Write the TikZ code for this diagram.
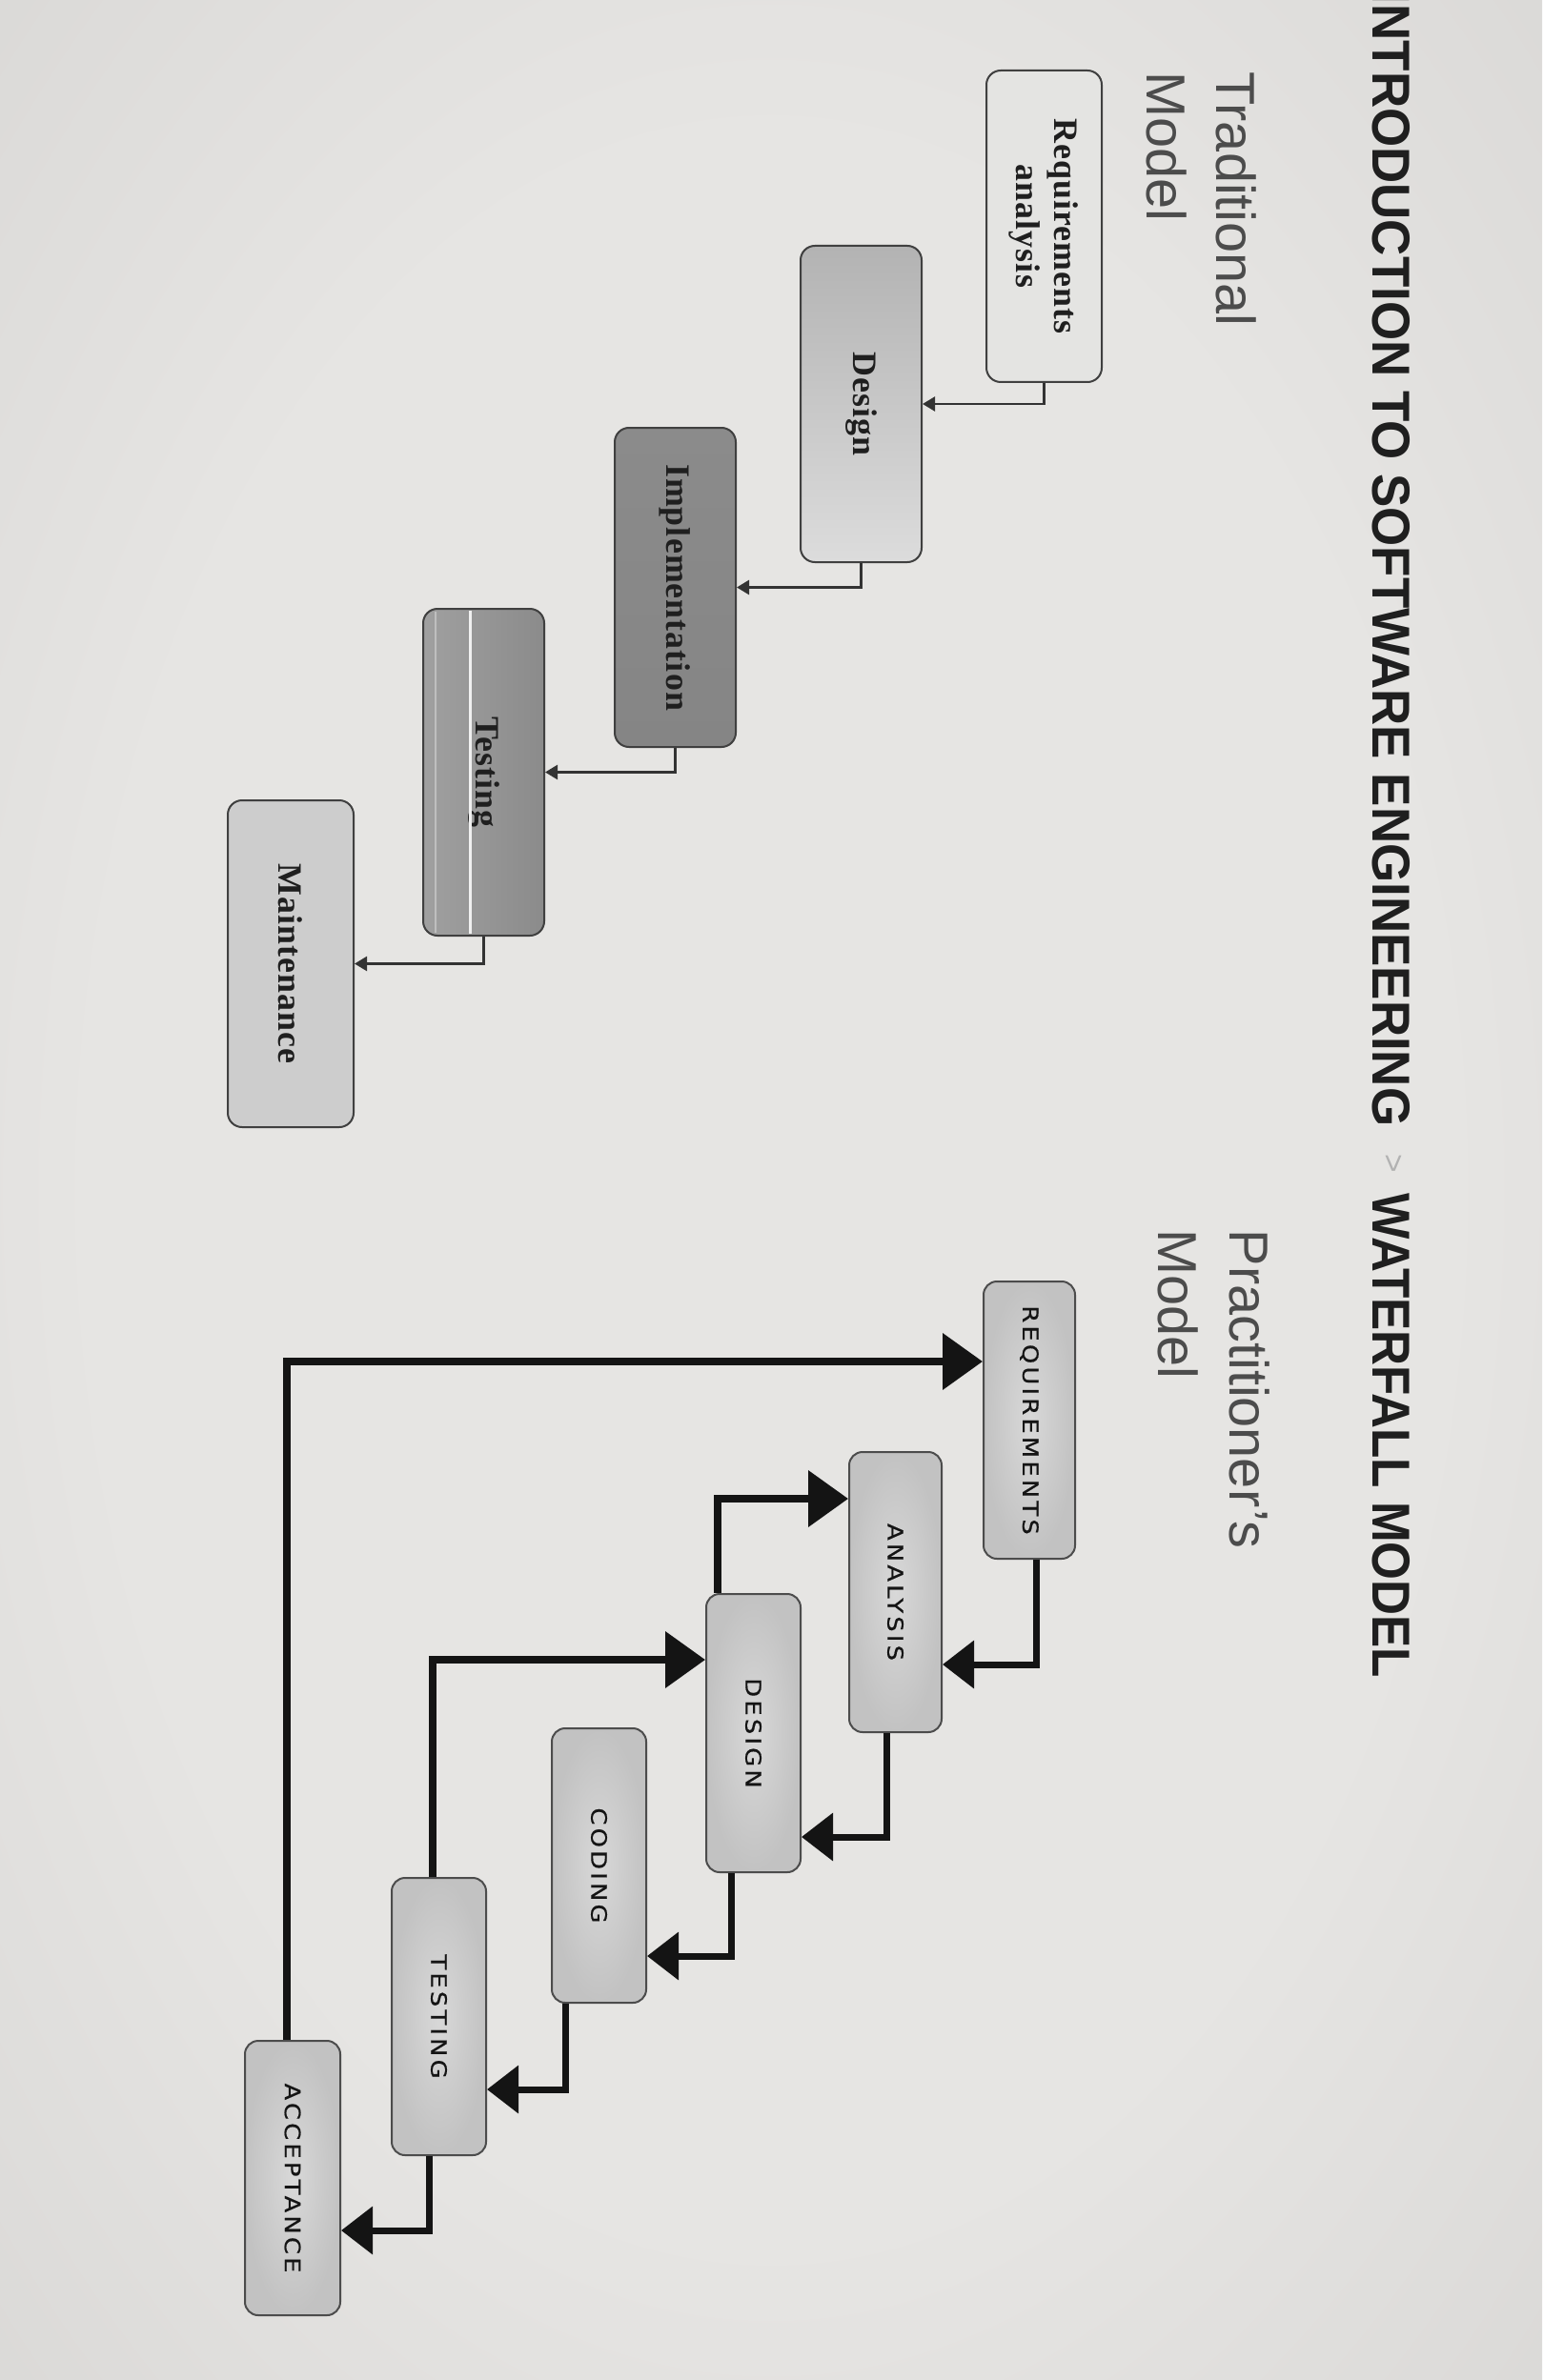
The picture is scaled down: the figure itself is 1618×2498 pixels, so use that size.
\documentclass[tikz,border=0pt]{standalone}
\usepackage{fontspec}
\setmainfont{Liberation Sans}
\newfontfamily\tradfont[LetterSpace=3]{Liberation Serif}
\newfontfamily\pracfont[FakeStretch=1.15, LetterSpace=14, FakeBold=0.6]{DejaVu Sans}
\usetikzlibrary{arrows.meta,calc}
\definecolor{bgin}{HTML}{E6E5E3}
\definecolor{bgout}{HTML}{BDBBB9}
\definecolor{tA}{HTML}{E4E4E2}
\definecolor{tBl}{HTML}{B3B3B3}
\definecolor{tBr}{HTML}{DCDCDC}
\definecolor{tCl}{HTML}{8B8B8B}
\definecolor{tCm}{HTML}{AEAEAE}
\definecolor{tCr}{HTML}{858585}
\definecolor{tDt}{HTML}{8B8B8B}
\definecolor{tDb}{HTML}{A0A0A0}
\definecolor{tE}{HTML}{CDCDCD}
\definecolor{pIn}{HTML}{D8D8D8}
\definecolor{pOut}{HTML}{C2C2C2}
\pgfdeclareradialshading{vign}{\pgfpoint{0bp}{0bp}}{color(0bp)=(bgin); color(22bp)=(bgin); color(71bp)=(bgout)}
\begin{document}
\begin{tikzpicture}[x=0.1mm,y=0.1mm,
  lbl/.style={rotate=-90, anchor=base west, inner sep=0pt},
  subttl/.style={lbl, font=\fontsize{16.4pt}{19pt}\selectfont, text=black!70},
  tbox/.style={rotate=-90, draw=black!75, line width=0.2mm, rounded corners=1.5mm,
    inner sep=0pt, align=center, text=black!88,
    font=\tradfont\bfseries\fontsize{10.2pt}{11.4pt}\selectfont},
  pbox/.style={rotate=-90, draw=black!70, line width=0.2mm, rounded corners=1.4mm,
    inner sep=0pt, inner color=pIn, outer color=pOut, text=black!92,
    font=\pracfont\fontsize{6.4pt}{7pt}\selectfont},
  tline/.style={draw=black!80, line width=0.25mm,
    -{Triangle[length=1.3mm,width=1.5mm]}},
  fwd/.style={draw=black!92, line width=0.7mm, line join=miter,
    -{Triangle[length=3.3mm,width=4.9mm]}},
  fbk/.style={draw=black!92, line width=0.75mm, line join=miter,
    -{Triangle[length=4.2mm,width=5.8mm]}}
]
\useasboundingbox (0,0) rectangle (1618,-2498);
\shade[shading=vign] (0,0) rectangle (1618,-2498);

% title
\node[rotate=-90, anchor=base east, inner sep=0pt, xscale=0.945, text=black!88,
  font=\bfseries\fontsize{15.93pt}{18pt}\selectfont] (t1) at (1440,-1183)
  {INTRODUCTION TO SOFTWARE ENGINEERING};
\node[rotate=-90, inner sep=0pt, text=black!30,
  font=\fontsize{9.5pt}{10pt}\selectfont] (tgt) at (1461,-1221) {>};
\node[lbl, xscale=0.915, text=black!88,
  font=\bfseries\fontsize{15.93pt}{18pt}\selectfont] (t2) at (1440,-1252)
  {WATERFALL MODEL};

% subtitles
\node[subttl] (trad1) at (1276,-75) {Traditional};
\node[subttl] (trad2) at (1203,-75) {Model};
\node[subttl] (prac1) at (1290,-1290) {Practitioner’s};
\node[subttl] (prac2) at (1215,-1290) {Model};

% traditional model
\node[tbox, minimum width=32.7mm, minimum height=12.1mm, fill=tA] (ta) at (1095.5,-237.5) {Requirements\\analysis};
\node[tbox, minimum width=33.2mm, minimum height=12.7mm, top color=tBl, bottom color=tBr] (tb) at (903.5,-424) {Design};
\node[tbox, minimum width=33.5mm, minimum height=12.7mm, top color=tCl, middle color=tCm, bottom color=tCr] (tc) at (708.5,-616.5) {Implementation};
\node[tbox, minimum width=34.3mm, minimum height=12.7mm, left color=tDb, right color=tDt] (td) at (507.5,-810.5) {Testing};
\node[tbox, minimum width=34.3mm, minimum height=13.2mm, fill=tE] (te) at (305,-1011.5) {Maintenance};

\draw[white!88!gray, line width=0.3mm] ($(td.west)+(-14.5,-3)$) -- ($(td.east)+(-14.5,3)$);
\draw[black!25, line width=0.2mm] ($(td.west)+(-50.5,-4)$) -- ($(td.east)+(-50.5,4)$);

\draw[tline] (ta.east) |- (tb.north);
\draw[tline] (tb.east) |- (tc.north);
\draw[tline] (tc.east) |- (td.north);
\draw[tline] (td.east) |- (te.north);

% practitioner's model
\node[pbox, minimum width=29.1mm, minimum height=9.6mm] (pa) at (1080,-1490.5) {REQUIREMENTS};
\node[pbox, minimum width=29.4mm, minimum height=9.7mm] (pb) at (939.5,-1671) {ANALYSIS};
\node[pbox, minimum width=29.2mm, minimum height=9.9mm] (pc) at (790.5,-1819) {DESIGN};
\node[pbox, minimum width=28.8mm, minimum height=9.9mm] (pd) at (628.5,-1958) {CODING};
\node[pbox, minimum width=29.1mm, minimum height=9.9mm] (pe) at (460.5,-2116.5) {TESTING};
\node[pbox, minimum width=28.8mm, minimum height=10mm] (pf) at (307,-2286) {ACCEPTANCE};

\draw[fwd] ($(pa.east)+(7,0)$) |- ($(pb.north)+(0,-76)$);
\draw[fwd] ($(pb.east)+(-9.5,0)$) |- ($(pc.north)+(0,-109)$);
\draw[fwd] ($(pc.east)+(-23.5,0)$) |- ($(pd.north)+(0,-95)$);
\draw[fwd] ($(pd.east)+(-35.5,0)$) |- ($(pe.north)+(0,-76.5)$);
\draw[fwd] ($(pe.east)+(-10.5,0)$) |- ($(pf.north)+(0,-55)$);

\draw[fbk] ($(pc.west)+(-37.5,0)$) |- ($(pb.south)+(0,98)$);
\draw[fbk] ($(pe.west)+(-6.5,0)$) |- ($(pc.south)+(0,77)$);
\draw[fbk] ($(pf.west)+(-6,0)$) |- ($(pa.south)+(0,61.5)$);
\end{tikzpicture}
\end{document}
